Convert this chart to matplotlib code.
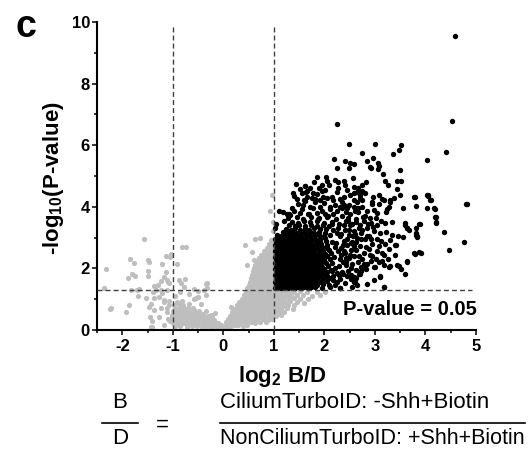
import numpy as np
import matplotlib
matplotlib.use('Agg')
import matplotlib.pyplot as plt
from matplotlib.ticker import MultipleLocator

plt.rcParams['font.family'] = ['Liberation Sans', 'DejaVu Sans']
plt.rcParams['axes.unicode_minus'] = False
plt.rcParams['mathtext.default'] = 'regular'

# ---- data (log2 B/D, -log10 P) ----
P_CUT = 1.3          # -log10(0.05)
FC_CUT = [-1, 1]
x_ticks = [-2, -1, 0, 1, 2, 3, 4, 5]
y_ticks = [0, 2, 4, 6, 8, 10]

# significant proteins, dense core next to the fold-change cut
sig_core = [
    (1.02,1.37),(1.08,1.40),(1.15,1.36),(1.21,1.39),(1.28,1.37),(1.34,1.41),(1.41,1.36),(1.47,1.39),
    (1.54,1.37),(1.60,1.40),(1.67,1.36),(1.74,1.39),(1.82,1.38),(1.95,1.36),(2.12,1.40),(2.31,1.37),
    (1.04,1.47),(1.11,1.49),(1.17,1.46),(1.24,1.48),(1.31,1.46),(1.37,1.49),(1.44,1.47),(1.50,1.45),
    (1.57,1.48),(1.64,1.46),(1.70,1.49),(1.78,1.47),(1.86,1.45),(1.98,1.48),(2.20,1.46),
    (1.02,1.57),(1.09,1.55),(1.15,1.58),(1.22,1.56),(1.29,1.59),(1.35,1.57),(1.42,1.55),(1.49,1.58),
    (1.55,1.56),(1.62,1.59),(1.69,1.57),(1.76,1.55),(1.84,1.58),(1.93,1.56),(2.05,1.59),
    (1.05,1.67),(1.12,1.65),(1.18,1.68),(1.25,1.66),(1.32,1.69),(1.38,1.67),(1.45,1.65),(1.52,1.68),
    (1.58,1.66),(1.65,1.69),(1.72,1.67),(1.80,1.65),(1.88,1.68),(1.97,1.66),(2.10,1.69),
    (1.02,1.77),(1.09,1.75),(1.16,1.78),(1.22,1.76),(1.29,1.79),(1.36,1.77),(1.42,1.75),(1.49,1.78),
    (1.56,1.76),(1.62,1.79),(1.69,1.77),(1.76,1.75),(1.83,1.78),(1.91,1.76),(2.02,1.79),(2.18,1.76),
    (1.05,1.87),(1.12,1.85),(1.19,1.88),(1.25,1.86),(1.32,1.89),(1.39,1.87),(1.45,1.85),(1.52,1.88),
    (1.59,1.86),(1.66,1.89),(1.73,1.87),(1.80,1.85),(1.87,1.88),(1.95,1.86),(2.06,1.89),(2.24,1.86),
    (1.02,1.97),(1.09,1.95),(1.15,1.98),(1.22,1.96),(1.29,1.99),(1.35,1.97),(1.42,1.95),(1.49,1.98),
    (1.56,1.96),(1.63,1.99),(1.70,1.97),(1.77,1.95),(1.84,1.98),(1.92,1.96),(2.00,1.99),(2.13,1.96),
    (1.05,2.07),(1.12,2.05),(1.18,2.08),(1.25,2.06),(1.32,2.09),(1.39,2.07),(1.46,2.05),(1.52,2.08),
    (1.59,2.06),(1.66,2.09),(1.73,2.07),(1.80,2.05),(1.88,2.08),(1.96,2.06),(2.08,2.09),
    (1.02,2.17),(1.09,2.15),(1.15,2.18),(1.22,2.16),(1.29,2.19),(1.36,2.17),(1.42,2.15),(1.49,2.18),
    (1.56,2.16),(1.63,2.19),(1.70,2.17),(1.77,2.15),(1.85,2.18),(1.94,2.16),(2.03,2.19),(2.15,2.16),
    (1.05,2.27),(1.12,2.25),(1.19,2.28),(1.26,2.26),(1.32,2.29),(1.39,2.27),(1.46,2.25),(1.53,2.28),
    (1.60,2.26),(1.67,2.29),(1.74,2.27),(1.81,2.25),(1.90,2.28),(1.99,2.26),(2.11,2.29),
    (1.02,2.37),(1.09,2.35),(1.16,2.38),(1.22,2.36),(1.29,2.39),(1.36,2.37),(1.43,2.35),(1.50,2.38),
    (1.57,2.36),(1.64,2.39),(1.71,2.37),(1.78,2.35),(1.86,2.38),(1.95,2.36),(2.05,2.39),(2.19,2.36),
    (1.05,2.47),(1.12,2.45),(1.19,2.48),(1.26,2.46),(1.33,2.49),(1.40,2.47),(1.47,2.45),(1.54,2.48),
    (1.61,2.46),(1.68,2.49),(1.75,2.47),(1.83,2.45),(1.92,2.48),(2.02,2.46),(2.14,2.49),
    (1.02,2.57),(1.09,2.55),(1.16,2.58),(1.23,2.56),(1.30,2.59),(1.37,2.57),(1.44,2.55),(1.51,2.58),
    (1.58,2.56),(1.65,2.59),(1.72,2.57),(1.80,2.55),(1.89,2.58),(1.98,2.56),(2.09,2.59),
    (1.05,2.67),(1.12,2.65),(1.19,2.68),(1.26,2.66),(1.33,2.69),(1.40,2.67),(1.47,2.65),(1.54,2.68),
    (1.62,2.66),(1.70,2.69),(1.78,2.67),(1.86,2.65),(1.95,2.68),(2.06,2.66),(2.20,2.69),
    (1.02,2.77),(1.09,2.75),(1.16,2.78),(1.23,2.76),(1.30,2.79),(1.37,2.77),(1.45,2.75),(1.52,2.78),
    (1.60,2.76),(1.68,2.79),(1.76,2.77),(1.85,2.75),(1.94,2.78),(2.05,2.76),
    (1.05,2.87),(1.12,2.85),(1.19,2.88),(1.27,2.86),(1.34,2.89),(1.42,2.87),(1.50,2.85),(1.58,2.88),
    (1.66,2.86),(1.74,2.89),(1.83,2.87),(1.92,2.85),(2.03,2.88),(2.16,2.86),
    (1.02,2.97),(1.10,2.95),(1.17,2.98),(1.25,2.96),(1.32,2.99),(1.40,2.97),(1.48,2.95),(1.56,2.98),
    (1.64,2.96),(1.73,2.99),(1.82,2.97),(1.91,2.95),(2.01,2.98),
    (1.06,3.07),(1.14,3.05),(1.22,3.08),(1.30,3.06),(1.38,3.09),(1.46,3.07),(1.54,3.05),(1.63,3.08),
    (1.72,3.06),(1.81,3.09),(1.90,3.07),(2.00,3.05),(2.12,3.08),
    (1.18,3.17),(1.27,3.15),(1.35,3.19),(1.44,3.16),(1.53,3.18),(1.62,3.15),(1.71,3.19),(1.80,3.16),
    (1.90,3.18),(2.02,3.15),
    (1.24,3.28),(1.33,3.25),(1.42,3.30),(1.52,3.26),(1.61,3.29),(1.70,3.25),(1.80,3.30),(1.91,3.27),
    (2.04,3.29),(2.18,3.26),
    (1.30,3.40),(1.41,3.37),(1.50,3.42),(1.62,3.38),(1.73,3.41),(1.85,3.37),(1.97,3.42),(2.10,3.39),
    (1.36,3.52),(1.47,3.49),(1.60,3.54),(1.72,3.50),(1.86,3.53),(1.99,3.49),(2.15,3.52),
    (1.28,3.64),(1.45,3.67),(1.58,3.62),(1.74,3.66),(1.90,3.63),(2.06,3.67),
    (1.26,3.78),(1.52,3.80),(1.68,3.76),(1.85,3.79),(2.02,3.77),
]

# significant proteins, looser cloud around the core
sig_mid = [
    (2.35,3.70),(2.42,3.55),(2.50,3.75),(2.55,3.45),(2.62,3.62),(2.70,3.40),(2.78,3.55),(2.85,3.30),
    (2.92,3.48),(2.98,3.20),(2.40,3.25),(2.48,3.10),(2.58,3.22),(2.65,3.00),(2.72,3.15),(2.80,2.95),
    (2.88,3.05),(2.95,2.80),(3.05,2.95),(3.10,3.15),(2.38,2.90),(2.45,2.75),(2.55,2.85),(2.62,2.60),
    (2.70,2.72),(2.78,2.50),(2.88,2.62),(2.95,2.40),(3.05,2.55),(2.40,2.50),(2.48,2.35),(2.58,2.40),
    (2.66,2.20),(2.75,2.30),(2.85,2.15),(2.42,2.10),(2.52,2.00),(2.62,1.95),(2.30,2.30),(2.32,2.65),
    (2.30,3.05),(2.28,3.45),(2.25,3.85),(2.35,4.15),(2.45,3.95),(2.65,4.15),(2.85,3.85),(2.90,3.65),
    (3.12,3.55),(3.08,2.72),(3.20,2.80),(3.25,2.30),(2.92,2.25),(3.18,2.10),(2.72,1.90),(2.45,1.75),
    (2.40,1.52),(2.65,1.45),(2.85,1.50),(2.55,1.38),(2.10,1.45),(2.18,1.62),(2.25,1.55),(2.05,1.75),
    (2.15,1.90),(2.28,1.80),(2.28,2.08),(2.26,2.55),(2.22,2.82),(2.24,3.15),
    (2.33,2.45),(2.36,2.20),(2.44,2.95),(2.50,3.40),(2.52,2.60),(2.60,3.85),(2.68,3.30),(2.73,2.05),
    (2.38,3.40),(2.46,3.55),(2.63,2.85),(2.80,3.70),(2.34,3.95),(2.56,3.05),(2.42,2.35),(2.30,1.65),
    (2.22,3.60),(2.27,3.30),(2.33,3.12),(2.36,2.75),(2.39,2.58),(2.43,2.20),(2.47,1.90),(2.50,2.45),
    (2.53,2.82),(2.49,3.25),(2.46,3.65),(2.42,3.82),(2.38,4.05),(2.31,4.25),(2.27,4.62),
    (2.55,2.15),(2.58,2.72),(2.60,3.12),(2.63,3.50),(2.66,3.95),(2.69,2.40),(2.72,2.95),(2.74,3.25),
    (2.77,3.68),(2.79,2.15),(2.82,2.70),(2.84,3.05),(2.87,3.45),(2.70,4.30),(2.58,4.45),(2.62,1.70),
    (2.90,2.45),(2.93,2.95),(2.96,3.35),(2.99,3.90),(3.02,2.30),(3.05,3.40),(3.08,2.20),(3.12,2.90),
    (1.35,3.95),(1.46,4.25),(1.58,4.05),(1.66,4.52),(1.75,4.30),(1.86,4.40),(1.95,4.50),(2.06,4.28),
    (2.12,3.92),(2.18,3.78),(1.52,4.58),(1.80,4.80),(1.95,4.72),(2.05,4.85),
    (1.20,3.55),(1.32,3.72),(1.40,3.85),(1.55,3.92),(1.70,3.75),(1.78,3.95),(1.88,3.62),(1.95,3.85),
    (2.08,3.70),(2.15,3.45),(2.20,4.05),(1.48,4.10),(1.62,4.18),(1.82,4.15),(2.00,4.12),(1.40,4.35),
    (1.55,4.45),(1.90,4.60),(1.72,4.62),(2.10,4.70),(1.05,3.45),(1.10,3.85),(1.02,3.30),
    (1.59,4.22),(1.65,4.33),(1.78,4.44),(1.82,4.24),(1.92,4.22),(1.98,4.33),(2.02,4.55),(2.15,4.33),
    (2.18,4.22),(2.25,4.49),(2.38,4.33),(2.41,4.71),(2.44,4.55),(2.51,4.38),(2.58,4.22),(2.58,4.65),
    (2.64,4.49),(2.71,4.38),(2.74,4.22),(2.81,4.44),(2.48,4.06),(2.31,4.00),(2.11,4.00),(1.92,4.00),
    (1.72,4.00),(3.17,4.22),(3.09,4.09),(3.27,4.00),(2.75,3.98),(2.67,3.84),(2.58,4.00),
    (1.44,4.73),(1.38,4.46),(1.61,4.68),(1.19,3.84),(1.30,3.77),
]

# significant proteins, sparse outer points
sig_outer = [
    (4.58,9.56),(2.25,6.68),(4.53,6.80),(2.48,6.03),(3.00,6.04),(3.51,6.01),(3.47,5.84),(3.35,5.71),
    (2.75,5.76),(4.40,5.77),(4.03,5.52),(2.19,5.54),(2.40,5.48),(2.50,5.43),(2.58,5.38),(2.84,5.49),
    (2.96,5.58),(3.06,5.42),(3.08,5.33),(2.90,5.30),(2.92,5.25),(2.49,5.25),(2.25,5.26),(3.07,5.22),
    (3.16,5.06),(3.50,5.20),(1.86,4.96),(2.03,4.96),(2.20,4.87),(2.26,4.82),(2.39,4.85),(2.56,4.92),
    (3.20,4.85),(3.25,4.71),(3.44,4.85),(3.52,4.85),(2.82,4.80),(2.74,4.71),(2.67,4.60),(2.75,4.52),
    (3.43,4.57),(3.50,4.38),(3.78,4.32),(4.05,4.39),(4.08,4.22),(4.82,4.08),(1.62,4.68),(1.63,4.49),
    (2.96,4.33),(2.94,4.17),(3.08,4.38),(3.14,4.24),(3.30,4.22),(3.38,4.30),
    (3.56,3.95),(3.81,4.04),(4.03,3.95),(4.19,3.93),(4.19,3.68),(4.21,3.50),(4.36,3.18),(4.77,2.87),
    (4.47,2.60),(3.60,3.41),(3.64,3.30),(3.81,3.32),(3.88,3.43),(3.81,3.14),(3.84,3.06),(3.55,3.01),
    (3.78,2.49),(3.88,2.54),(3.91,2.49),(3.64,2.22),(3.39,2.44),(3.28,2.06),(3.47,2.08),(3.51,1.98),
    (3.60,1.82),(3.17,1.41),(3.10,1.73),(2.98,1.62),(3.00,2.06),(2.82,1.97),(2.69,1.82),(2.59,1.73),
    (2.52,1.65),(2.58,1.57),(2.31,1.35),(2.35,1.89),(2.37,1.82),(2.21,2.00),(3.27,2.62),(3.14,2.49),
    (3.17,2.44),(3.41,2.76),(3.30,2.92),(3.33,3.08),(3.45,3.06),(3.22,3.19),(3.20,3.46),(3.33,3.50),
    (3.22,3.84),(3.23,3.92),(3.04,3.79),(3.02,3.63),(2.94,4.09),(3.30,4.17),
    (2.53,1.79),(2.54,1.65),(2.61,1.57),(2.71,1.82),(3.10,1.75),(3.18,1.41),(2.81,2.00),(2.99,2.06),
    (3.14,2.24),(3.29,2.08),(3.44,2.11),(3.63,2.24),(3.79,2.47),(4.80,4.09),(4.03,4.38),(4.06,4.35),
    (4.10,4.22),(4.17,3.95),(4.21,3.68),(4.21,3.48),(3.79,4.33),(3.60,3.46),(3.63,3.30),(3.68,3.25),
    (3.81,3.08),(3.84,3.01),(3.89,3.43),(3.40,2.76),
]

# non-significant proteins, fold change below 1 (central wedge) and below the P cut
ns_wedge = [
    (-0.08,0.05),(0.00,0.04),(0.06,0.07),(0.12,0.05),
    (-0.04,0.15),(0.03,0.13),(0.09,0.16),(0.16,0.14),(0.23,0.17),(0.30,0.15),(0.38,0.13),(0.46,0.16),
    (0.05,0.25),(0.11,0.23),(0.18,0.26),(0.25,0.24),(0.32,0.27),(0.39,0.25),(0.46,0.23),(0.54,0.26),
    (0.62,0.24),(0.72,0.27),(0.85,0.25),
    (0.09,0.36),(0.15,0.34),(0.22,0.37),(0.29,0.35),(0.36,0.38),(0.43,0.36),(0.50,0.34),(0.57,0.37),
    (0.64,0.35),(0.71,0.38),(0.79,0.36),(0.88,0.34),(0.97,0.37),
    (0.13,0.47),(0.20,0.45),(0.27,0.48),(0.34,0.46),(0.41,0.49),(0.48,0.47),(0.55,0.45),(0.62,0.48),
    (0.69,0.46),(0.76,0.49),(0.83,0.47),(0.90,0.45),(0.97,0.48),(1.05,0.46),(1.14,0.49),
    (0.18,0.58),(0.25,0.56),(0.32,0.59),(0.39,0.57),(0.46,0.60),(0.53,0.58),(0.60,0.56),(0.67,0.59),
    (0.74,0.57),(0.81,0.60),(0.88,0.58),(0.95,0.56),(1.02,0.59),(1.10,0.57),(1.20,0.60),
    (0.23,0.69),(0.30,0.67),(0.37,0.70),(0.44,0.68),(0.51,0.71),(0.58,0.69),(0.65,0.67),(0.72,0.70),
    (0.79,0.68),(0.86,0.71),(0.93,0.69),(1.00,0.67),(1.07,0.70),(1.15,0.68),(1.25,0.71),(1.38,0.69),
    (0.27,0.80),(0.34,0.78),(0.41,0.81),(0.48,0.79),(0.55,0.82),(0.62,0.80),(0.69,0.78),(0.76,0.81),
    (0.83,0.79),(0.90,0.82),(0.97,0.80),(1.04,0.78),(1.11,0.81),(1.19,0.79),(1.28,0.82),(1.40,0.80),
    (0.31,0.91),(0.38,0.89),(0.45,0.92),(0.52,0.90),(0.59,0.93),(0.66,0.91),(0.73,0.89),(0.80,0.92),
    (0.87,0.90),(0.94,0.93),(1.01,0.91),(1.08,0.89),(1.15,0.92),(1.23,0.90),(1.32,0.93),(1.45,0.91),
    (1.60,0.89),
    (0.36,1.02),(0.43,1.00),(0.50,1.03),(0.57,1.01),(0.64,1.04),(0.71,1.02),(0.78,1.00),(0.85,1.03),
    (0.92,1.01),(0.99,1.04),(1.06,1.02),(1.13,1.00),(1.21,1.03),(1.30,1.01),(1.40,1.04),(1.52,1.02),
    (1.68,1.00),
    (0.40,1.13),(0.47,1.11),(0.54,1.14),(0.61,1.12),(0.68,1.15),(0.75,1.13),(0.82,1.11),(0.89,1.14),
    (0.96,1.12),(1.03,1.15),(1.10,1.13),(1.17,1.11),(1.25,1.14),(1.34,1.12),(1.45,1.15),(1.58,1.13),
    (1.75,1.11),(1.92,1.14),
    (0.44,1.24),(0.51,1.22),(0.58,1.25),(0.65,1.23),(0.72,1.26),(0.79,1.24),(0.86,1.22),(0.93,1.25),
    (1.00,1.23),(1.07,1.26),(1.14,1.24),(1.22,1.22),(1.31,1.25),(1.40,1.23),(1.52,1.26),(1.66,1.24),
    (1.85,1.22),(2.02,1.25),
    (0.47,1.35),(0.54,1.33),(0.61,1.36),(0.68,1.34),(0.75,1.37),(0.82,1.35),(0.89,1.33),(0.96,1.36),
    (0.50,1.46),(0.57,1.44),(0.64,1.47),(0.71,1.45),(0.78,1.48),(0.85,1.46),(0.92,1.44),(0.99,1.47),
    (0.52,1.57),(0.59,1.55),(0.66,1.58),(0.73,1.56),(0.80,1.59),(0.87,1.57),(0.94,1.55),
    (0.54,1.68),(0.61,1.66),(0.68,1.69),(0.75,1.67),(0.82,1.70),(0.89,1.68),(0.96,1.66),
    (0.56,1.79),(0.63,1.77),(0.70,1.80),(0.77,1.78),(0.84,1.81),(0.91,1.79),(0.98,1.77),
    (0.58,1.90),(0.65,1.88),(0.72,1.91),(0.79,1.89),(0.86,1.92),(0.93,1.90),
    (0.60,2.01),(0.67,1.99),(0.74,2.02),(0.81,2.00),(0.88,2.03),(0.95,2.01),
    (0.63,2.12),(0.70,2.10),(0.77,2.13),(0.84,2.11),(0.91,2.14),(0.98,2.12),
    (0.66,2.23),(0.73,2.21),(0.80,2.24),(0.87,2.22),(0.94,2.25),
    (0.70,2.34),(0.77,2.32),(0.84,2.35),(0.91,2.33),(0.98,2.36),
    (0.74,2.45),(0.81,2.43),(0.88,2.46),(0.95,2.44),
    (0.80,2.56),(0.87,2.54),(0.94,2.57),
    (0.86,2.67),(0.93,2.65),(0.99,2.68),
    (0.91,2.80),(0.97,2.78),(0.95,2.92),
    (0.43,2.76),(0.63,2.94),(0.72,3.00),(0.93,3.87),(0.96,4.38),(0.16,0.76),(0.98,3.20),(0.99,3.50),
    (0.57,2.54),(0.60,2.27),(0.47,2.11),(0.70,2.33),
]

# non-significant proteins, dense cloud left of zero
ns_left_dense = [
    (-0.95,0.12),(-0.85,0.13),(-0.72,0.11),(-0.62,0.13),(-0.52,0.12),(-0.43,0.10),(-0.35,0.12),
    (-0.27,0.11),(-0.20,0.13),(-0.13,0.10),(-0.06,0.12),
    (-1.00,0.22),(-0.92,0.24),(-0.84,0.21),(-0.76,0.23),(-0.68,0.22),(-0.60,0.24),(-0.52,0.21),
    (-0.45,0.23),(-0.38,0.22),(-0.31,0.24),(-0.24,0.21),(-0.17,0.23),(-0.10,0.22),
    (-0.98,0.32),(-0.90,0.34),(-0.82,0.31),(-0.74,0.33),(-0.66,0.32),(-0.58,0.34),(-0.50,0.31),
    (-0.42,0.33),(-0.34,0.32),(-0.26,0.34),(-0.19,0.31),
    (-1.02,0.42),(-0.94,0.44),(-0.86,0.41),(-0.78,0.43),(-0.70,0.42),(-0.62,0.44),(-0.54,0.41),
    (-0.46,0.43),(-0.38,0.42),(-0.30,0.44),
    (-0.96,0.52),(-0.88,0.54),(-0.80,0.51),(-0.72,0.53),(-0.64,0.52),(-0.56,0.54),(-0.48,0.51),
    (-0.40,0.53),
    (-1.00,0.62),(-0.91,0.64),(-0.83,0.61),(-0.75,0.63),(-0.67,0.62),(-0.58,0.64),(-0.49,0.61),
    (-0.95,0.72),(-0.86,0.74),(-0.78,0.71),(-0.70,0.73),(-0.60,0.72),
    (-0.98,0.82),(-0.88,0.84),(-0.79,0.81),(-0.68,0.83),
    (-0.92,0.92),(-0.82,0.94),
    (-0.58,1.00),(-0.45,0.85),(-0.35,0.62),(-0.25,0.50),(-1.08,0.95),(-1.12,0.70),(-1.05,0.30),
]

# non-significant proteins, scattered on the left
ns_left_sparse = [
    (-2.33,1.97),(-2.36,1.35),(-2.24,0.68),(-1.92,0.59),(-1.86,0.81),(-1.85,2.32),(-1.77,2.19),
    (-1.80,1.81),(-1.75,1.75),(-1.88,1.68),(-1.83,1.30),(-1.70,1.30),(-1.69,1.10),(-1.57,2.95),
    (-1.48,2.22),(-1.50,1.93),(-1.50,1.76),(-1.54,1.03),(-1.44,0.84),(-1.37,0.65),(-1.27,0.43),
    (-1.42,0.30),(-1.42,0.11),(-1.13,2.41),(-1.03,2.47),(-1.21,2.13),(-0.92,2.14),(-0.81,2.68),
    (-0.73,2.68),(-0.75,1.65),(-0.33,1.52),(-0.32,1.35),(-1.14,1.87),(-1.17,1.73),(-1.12,1.62),
    (-1.07,1.54),(-1.24,1.59),(-1.30,1.46),(-1.37,1.43),(-1.40,1.24),(-1.24,1.30),(-1.11,1.30),
    (-0.59,1.32),(-0.51,1.27),(-1.27,1.08),(-1.17,0.92),(-1.07,0.81),(-1.24,0.70),(-1.11,0.59),
    (-1.01,0.49),(-1.09,0.35),(-1.17,0.16),(-2.23,0.70),(-1.67,1.32),(-1.49,2.27),(-1.48,0.76),
    (-1.46,0.43),(-1.44,0.11),(-1.38,1.03),(-1.33,1.30),(-1.21,1.19),(-1.18,0.97),(-1.05,2.36),
    (-1.10,1.57),(-0.88,1.62),(-0.84,1.52),(-0.78,1.41),(-0.34,1.49),(-0.39,1.30),(-0.50,1.08),
    (-0.55,1.03),(-0.22,0.43),(-0.16,0.56),(-0.34,1.14),(-0.68,1.18),(-0.85,1.25),(-0.95,1.10),
]

sig = np.array(sig_core + sig_mid + sig_outer)
ns = np.array(ns_left_sparse + ns_left_dense + ns_wedge)

W, H = 532, 454


def fx(px):
    return px / W


def fy(py):
    return 1 - py / H


fig = plt.figure(figsize=(W / 100, H / 100), dpi=100)
ax = fig.add_axes([fx(97), fy(330), (476 - 97) / W, (330 - 22) / H])

ax.scatter(ns[:, 0], ns[:, 1], s=14, color='#bebebe', linewidths=0, zorder=2)
ax.scatter(sig[:, 0], sig[:, 1], s=15, color='black', linewidths=0, zorder=3)

dash = dict(color='#404040', lw=1.0, linestyle=(0, (3.6, 2.2)), zorder=4)
for xc in FC_CUT:
    ax.plot([xc, xc], [0, 9.9], **dash)
ax.plot([-2.5, 4.92], [P_CUT, P_CUT], **dash)

ax.set_xlim(-2.5, 5)
ax.set_ylim(0, 10)
ax.set_xticks(x_ticks, labels=[str(v) for v in x_ticks], fontsize=12, fontweight='bold')
ax.set_yticks(y_ticks, labels=[str(v) for v in y_ticks], fontsize=12, fontweight='bold')
ax.xaxis.set_minor_locator(MultipleLocator(0.5))
ax.yaxis.set_minor_locator(MultipleLocator(1))
for s in ['top', 'right']:
    ax.spines[s].set_visible(False)
for s in ['left', 'bottom']:
    ax.spines[s].set_linewidth(1.5)
ax.tick_params(which='major', direction='out', length=3.6, width=1.1)
ax.tick_params(which='minor', direction='out', length=2.2, width=1.1)
ax.tick_params(axis='x', pad=3.0)
ax.tick_params(axis='y', pad=1.5)

ax.text(5.02, 0.65, 'P-value = 0.05', ha='right', va='center',
        fontsize=14.5, fontweight='bold')

fig.text(fx(26), fy(27), 'c', fontsize=27, fontweight='bold', ha='center', va='center')
fig.text(fx(54), fy(178), '-log$_{10}$(P-value)', rotation=90, fontsize=16,
         fontweight='bold', ha='center', va='center')
fig.text(fx(282), fy(382), 'log$_{2}$ B/D', fontsize=16, fontweight='bold',
         ha='center', va='baseline')

# ratio definition under the plot
fig.text(fx(120), fy(402), 'B', fontsize=16, ha='center', va='center')
fig.text(fx(120), fy(438), 'D', fontsize=16, ha='center', va='center')
fig.add_artist(plt.Line2D([fx(102), fx(138)], [fy(423), fy(423)], color='black',
                          lw=1.2, transform=fig.transFigure))
fig.text(fx(162), fy(425), '=', fontsize=16, ha='center', va='center')
fig.text(fx(220), fy(403), 'CiliumTurboID: -Shh+Biotin', fontsize=16,
         ha='left', va='center')
fig.add_artist(plt.Line2D([fx(220), fx(525)], [fy(423), fy(423)], color='black',
                          lw=1.2, transform=fig.transFigure))
fig.text(fx(220), fy(438), 'NonCiliumTurboID: +Shh+Biotin', fontsize=15.5,
         ha='left', va='center')

fig.savefig('out.png', dpi=100)
